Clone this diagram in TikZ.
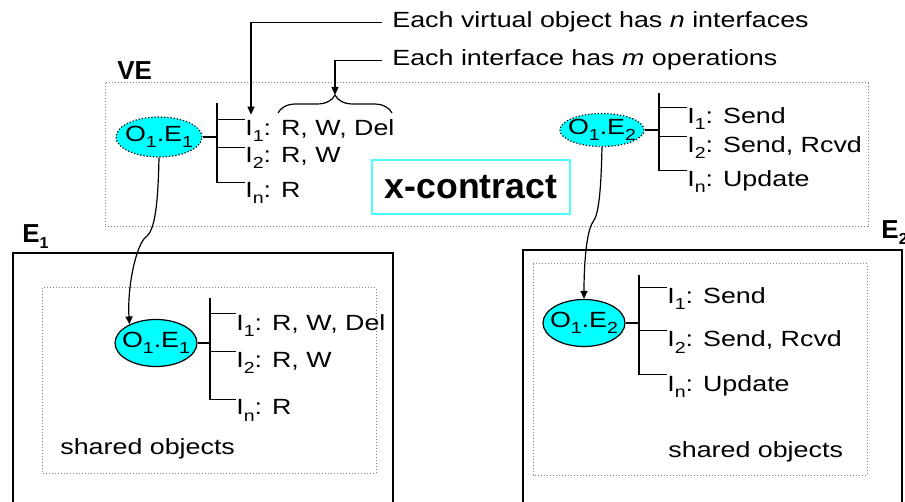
\documentclass[tikz,border=0pt]{standalone}
\usepackage{fontspec}
\setmainfont[FakeStretch=1.22]{Liberation Sans}
\newfontfamily\headfont{Liberation Sans}
\usetikzlibrary{arrows.meta,shapes.geometric,decorations.pathreplacing}
\definecolor{objcyan}{RGB}{0,255,255}
\newcommand{\lowsub}[1]{\raisebox{-3pt}{\fontsize{8}{8}\selectfont #1}}

\begin{document}
\begin{tikzpicture}[x=0.5pt,y=-0.5pt,font=\fontsize{11}{13}\selectfont,
  obj/.style={ellipse,fill=objcyan,draw,inner xsep=-3pt,inner ysep=0pt,line width=0.6pt},
  iface/.style={anchor=base west,inner sep=0pt},
  head/.style={anchor=base west,inner sep=0pt,font=\headfont\bfseries\fontsize{13}{15}\selectfont},
  dotbox/.style={draw=gray,densely dotted,line width=0.5pt},
  arr/.style={-{Triangle[length=4pt,width=3.5pt]},line width=0.6pt}]
\useasboundingbox (0,0) rectangle (905,502);

\draw[dotbox] (105,83) rectangle (868,227);
\draw[line width=0.7pt] (13,506) |- (393,253) -- (393,506);
\draw[dotbox] (42,288) rectangle (376,473);
\draw[line width=0.7pt] (523,506) |- (902,250) -- (902,506);
\draw[dotbox] (533,264) rectangle (867,475);

\node[head] (ve) at (117,80) {VE};
\node[head] (e1) at (22,243) {E\lowsub{1}};
\node[head] (e2) at (881,239) {E\lowsub{2}};
\node[draw=objcyan!70,line width=0.7pt,minimum width=99pt,minimum height=27pt,
  font=\headfont\bfseries\fontsize{17.8}{20}\selectfont] (xc) at (471,187) {x-contract};

\node[iface] (nint) at (392,28) {Each virtual object has \textit{n} interfaces};
\node[iface] (mint) at (392,66) {Each interface has \textit{m} operations};

\node[obj,densely dotted,minimum width=43pt,minimum height=20pt] (vo1) at (159,137) {O\lowsub{1}.E\lowsub{1}};
\node[iface] (vl11) at (245,136) {I\lowsub{1}: R, W, Del};
\node[iface] (vl12) at (245,163) {I\lowsub{2}: R, W};
\node[iface] (vl13) at (245,198) {I\lowsub{n}: R};
\coordinate (vt1) at (217,103);

\node[obj,densely dotted,minimum width=42pt,minimum height=16.5pt] (vo2) at (602,130) {O\lowsub{1}.E\lowsub{2}};
\node[iface] (vl21) at (687,124) {I\lowsub{1}: Send};
\node[iface] (vl22) at (687,153) {I\lowsub{2}: Send, Rcvd};
\node[iface] (vl23) at (687,187) {I\lowsub{n}: Update};
\coordinate (vt2) at (659,93);

\node[obj,minimum width=41pt,minimum height=23.5pt] (eo1) at (156,343) {O\lowsub{1}.E\lowsub{1}};
\node[iface] (el11) at (236,330) {I\lowsub{1}: R, W, Del};
\node[iface] (el12) at (236,367) {I\lowsub{2}: R, W};
\node[iface] (el13) at (236,415) {I\lowsub{n}: R};
\coordinate (et1) at (210,298);
\node[iface] (sh1) at (60,454) {shared objects};

\node[obj,minimum width=41pt,minimum height=23.5pt] (eo2) at (584,323) {O\lowsub{1}.E\lowsub{2}};
\node[iface] (el21) at (667,304) {I\lowsub{1}: Send};
\node[iface] (el22) at (667,347) {I\lowsub{2}: Send, Rcvd};
\node[iface] (el23) at (667,391) {I\lowsub{n}: Update};
\coordinate (et2) at (639,275);
\node[iface] (sh2) at (668,457) {shared objects};

\draw[line width=0.6pt] (vo1.east) -- (vo1.east -| vt1) (vt1) |- (vl13.north west)
  (vl11.north west) -- (vl11.north west -| vt1) (vl12.north west) -- (vl12.north west -| vt1);
\draw[line width=0.6pt] (vo2.east) -- (vo2.east -| vt2) (vt2) |- (vl23.north west)
  (vl21.north west) -- (vl21.north west -| vt2) (vl22.north west) -- (vl22.north west -| vt2);
\draw[line width=0.6pt] (eo1.east) -- (eo1.east -| et1) (et1) |- (el13.north west)
  (el11.north west) -- (el11.north west -| et1) (el12.north west) -- (el12.north west -| et1);
\draw[line width=0.6pt] (eo2.east) -- (eo2.east -| et2) (et2) |- (el23.north west)
  (el21.north west) -- (el21.north west -| et2) (el22.north west) -- (el22.north west -| et2);

\coordinate (brl) at (278,113);
\coordinate (brr) at (392,113);
\coordinate (brtip) at (335,95);
\draw[decorate,decoration={brace,amplitude=9pt},line width=0.6pt] (brl) -- (brr);
\draw[arr] ([xshift=-5pt]nint.west) -| ([xshift=3pt,yshift=2.5pt]vl11.north west);
\draw[arr] ([xshift=-5pt]mint.west) -| (brtip);

\draw[arr] (vo1.south) .. controls (158,205) and (155,230) .. (146,237)
  .. controls (137,243) and (127,285) .. (eo1.145);
\draw[arr] (vo2.south) .. controls (601,190) and (599,214) .. (593,222)
  .. controls (587,230) and (584,260) .. (eo2.north);
\end{tikzpicture}
\end{document}
